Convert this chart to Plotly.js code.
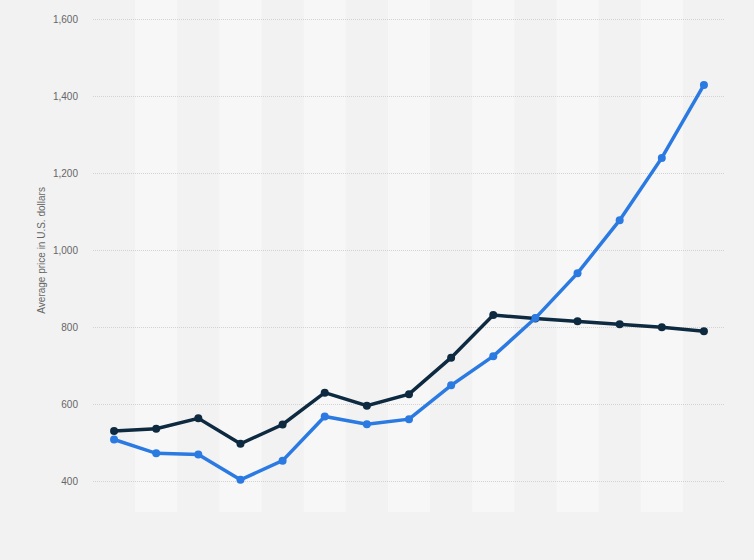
<!DOCTYPE html>
<html>
<head>
<meta charset="utf-8">
<script src="https://cdn.plot.ly/plotly-3.0.1.min.js"></script>
<style>html,body{margin:0;padding:0;background:#f2f2f2;}#chart{width:754px;height:560px;}</style>
</head>
<body>
<div id="chart"></div>
<script>
var categories = ["1","2","3","4","5","6","7","8","9","10","11","12","13","14","15"];
var darkSeries = [530, 536, 563, 497, 547, 630, 596, 626, 721, 832, 823, 816, 808, 800, 790];
var blueSeries = [508, 472, 469, 403, 453, 568, 548, 561, 649, 725, 824, 941, 1079, 1241, 1431];
var yTickVals = [400, 600, 800, 1000, 1200, 1400, 1600];
var yTickText = ["400", "600", "800", "1,000", "1,200", "1,400", "1,600"];
var yTitle = "Average price in U.S. dollars";

var shapes = [];
for (var i = 1; i < categories.length; i += 2) {
  shapes.push({type: "rect", xref: "x", yref: "paper", x0: i - 0.5, x1: i + 0.5, y0: 0, y1: 1,
    fillcolor: "#f7f7f7", line: {width: 0}, layer: "below"});
}

var traces = [
  {x: categories, y: darkSeries, type: "scatter", mode: "lines+markers",
   line: {color: "#0e2a40", width: 3.5}, marker: {color: "#0e2a40", size: 8}, hoverinfo: "y"},
  {x: categories, y: blueSeries, type: "scatter", mode: "lines+markers",
   line: {color: "#2a7ae2", width: 3.5}, marker: {color: "#2a7ae2", size: 8}, hoverinfo: "y"}
];

var layout = {
  width: 754, height: 560,
  paper_bgcolor: "#f2f2f2", plot_bgcolor: "rgba(0,0,0,0)",
  margin: {l: 93, r: 29, t: 0, b: 48},
  showlegend: false,
  font: {family: "Liberation Sans, Arial, sans-serif", size: 10, color: "#666666"},
  xaxis: {type: "category", range: [-0.5, 14.5], showticklabels: false, showgrid: false,
    zeroline: false, showline: false, ticks: "", fixedrange: true},
  yaxis: {range: [319.3, 1652], tickvals: yTickVals, ticktext: yTickText, showgrid: true,
    gridcolor: "#d2d2d2", griddash: "1px,1px", gridwidth: 1, zeroline: false, showline: false,
    ticks: "", ticklabelstandoff: 14, tickfont: {size: 10, color: "#666666"}, fixedrange: true},
  shapes: shapes,
  annotations: [{text: yTitle, textangle: -90, xref: "paper", yref: "y", x: -0.082, y: 1000,
    xanchor: "center", yanchor: "middle", showarrow: false, font: {size: 10, color: "#666666"}}]
};

Plotly.newPlot("chart", traces, layout, {displayModeBar: false, staticPlot: true});
</script>
</body>
</html>
